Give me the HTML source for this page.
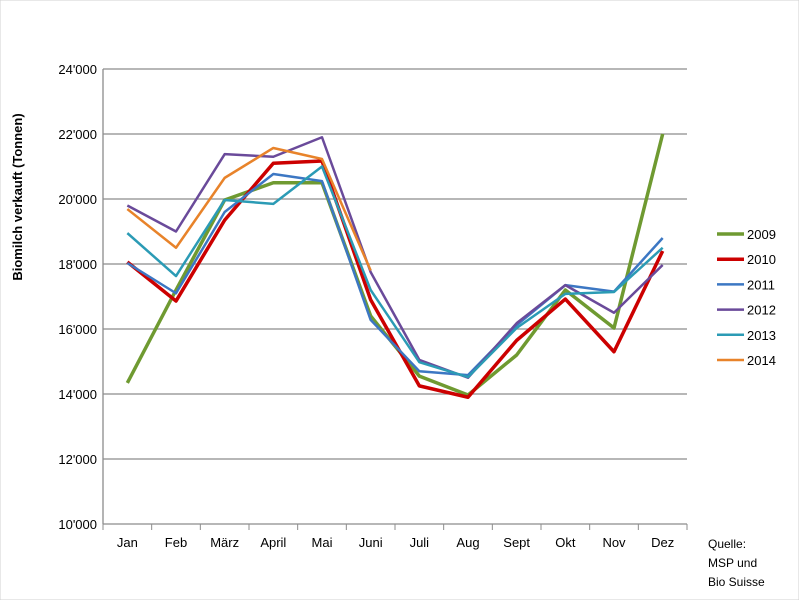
<!DOCTYPE html>
<html><head><meta charset="utf-8"><style>
body{margin:0;background:#fff;}
svg{font-family:"Liberation Sans",Arial,sans-serif;}
</style></head><body>
<svg id="c" width="799" height="600">
<rect x="0" y="0" width="799" height="600" fill="#fff" stroke="#d0d0d0"/>
<g id="grid"></g><g id="series"></g><g id="axes"></g><g id="legend"></g>
<text x="22" y="197" transform="rotate(-90 22 197)" text-anchor="middle" font-size="13" font-weight="bold">Biomilch verkauft  (Tonnen)</text>
<text x="708" y="548" font-size="12"><tspan x="708">Quelle:</tspan><tspan x="708" dy="19">MSP und</tspan><tspan x="708" dy="19">Bio Suisse</tspan></text>
</svg>
<script>
const months=["Jan","Feb","März","April","Mai","Juni","Juli","Aug","Sept","Okt","Nov","Dez"];
const yTicks=[10000,12000,14000,16000,18000,20000,22000,24000];
const yTickLabels=["10'000","12'000","14'000","16'000","18'000","20'000","22'000","24'000"];
const years=["2009","2010","2011","2012","2013","2014"];
const colors=["#6f9a31","#cc0000","#3c77c3","#6a4a9a","#2b9bb5","#e8832a"];
const widths=[3.5,3.5,2.5,2.5,2.5,2.5];
const v2009=[14340,17200,19970,20500,20500,16400,14550,13970,15200,17200,16030,22000];
const v2010=[18060,16860,19350,21100,21170,16900,14250,13900,15650,16920,15300,18400];
const v2011=[18030,17100,19600,20770,20550,16280,14700,14580,16120,17350,17150,18800];
const v2012=[19800,19000,21380,21300,21900,17750,15050,14500,16180,17350,16500,17970];
const v2013=[18950,17630,19970,19850,21000,17200,14980,14520,16030,17080,17140,18500];
const v2014=[19690,18500,20650,21570,21230,17800];
const seriesVals=[v2009,v2010,v2011,v2012,v2013,v2014];
const NS="http://www.w3.org/2000/svg";
const L=103,R=687,T=69,B=524,yMin=10000,yMax=24000;
const bw=(R-L)/months.length;
const xS=i=>L+bw*(i+0.5);
const yS=v=>B-(v-yMin)/(yMax-yMin)*(B-T);
function mk(t,a,p){const e=document.createElementNS(NS,t);for(const k in a)e.setAttribute(k,a[k]);p.appendChild(e);return e;}
const grid=document.getElementById('grid'),axes=document.getElementById('axes'),ser=document.getElementById('series'),leg=document.getElementById('legend');
yTicks.forEach((t,i)=>{
 const y=yS(t);
 const g=mk('line',{x1:L,x2:R,y1:y,y2:y,stroke:'#8c8c8c','stroke-width':1.3},grid);
 
 
 const tx=mk('text',{x:L-6,y:y+5,'text-anchor':'end','font-size':13},axes);
 tx.textContent=yTickLabels[i];
 
 
});
const ya=mk('line',{x1:L,x2:L,y1:T,y2:B,stroke:'#8c8c8c','stroke-width':1.3},axes);


months.forEach((m,i)=>{
 const x=L+bw*(i+1);
 const tk=mk('line',{x1:x,x2:x,y1:B,y2:B+6,stroke:'#8c8c8c'},axes);
 
 
 const tx=mk('text',{x:xS(i),y:B+23,'text-anchor':'middle','font-size':13},axes);
 tx.textContent=m;
 
 
});
mk('line',{x1:L,x2:L,y1:B,y2:B+6,stroke:'#8c8c8c'},axes);
seriesVals.forEach((vals,s)=>{
 const pts=vals.map((v,i)=>xS(i)+','+yS(v)).join(' ');
 const p=mk('polyline',{points:pts,fill:'none',stroke:colors[s],'stroke-width':widths[s],'stroke-linejoin':'round'},ser);
 
 
});
years.forEach((yr,s)=>{
 const y=234+s*25.2;
 const g=mk('g',{},leg);
 
 
 mk('line',{x1:717,x2:744,y1:y,y2:y,stroke:colors[s],'stroke-width':widths[s]},g);
 const t=mk('text',{x:747,y:y+5,'font-size':13},g);
 t.textContent=yr;
});
</script>
</body></html>
